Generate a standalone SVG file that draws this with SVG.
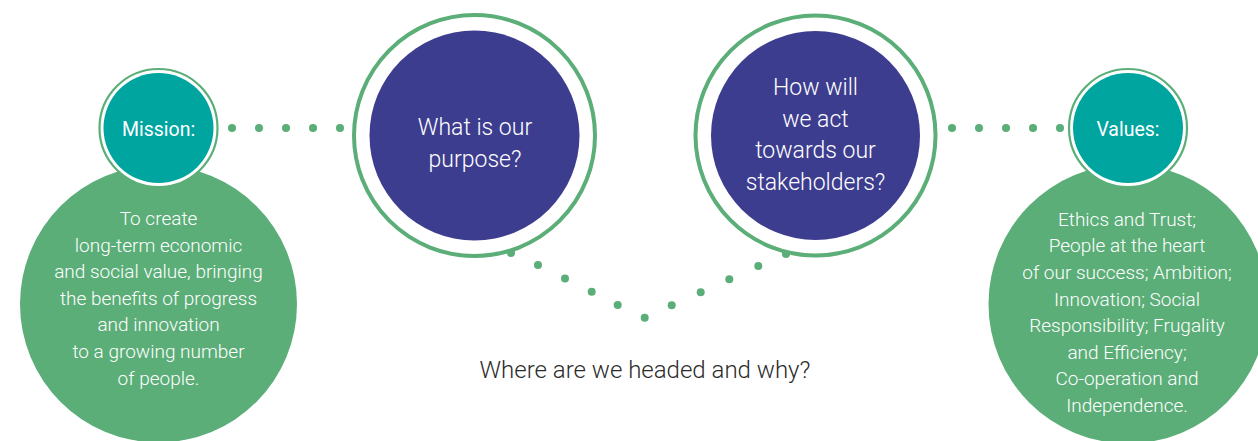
<svg xmlns="http://www.w3.org/2000/svg" width="1258" height="441" viewBox="0 0 1258 441">
<style>
.big{fill:#5bae78}
.ring{fill:#ffffff;stroke:#5bae78;stroke-width:4}
.sring{fill:#ffffff;stroke:#5bae78;stroke-width:2.2}
.teal{fill:#00a59f}
.purple{fill:#3d3d8f}
.dot{fill:#5bae78}
text{font-family:Roboto,"Liberation Sans",sans-serif;font-weight:300;fill:#ffffff;text-anchor:middle}
.body{font-size:19px}
.lbl{font-size:19.5px;font-weight:400}
.q{font-size:23px}
.foot{font-size:24px;fill:#2b2b2b}
</style>
<g id="connectors">
<circle class="dot" cx="232" cy="128" r="4"/>
<circle class="dot" cx="259" cy="128" r="4"/>
<circle class="dot" cx="286" cy="128" r="4"/>
<circle class="dot" cx="313" cy="128" r="4"/>
<circle class="dot" cx="340" cy="128" r="4"/>
<circle class="dot" cx="952" cy="128" r="4"/>
<circle class="dot" cx="979" cy="128" r="4"/>
<circle class="dot" cx="1006" cy="128" r="4"/>
<circle class="dot" cx="1033" cy="128" r="4"/>
<circle class="dot" cx="1060" cy="128" r="4"/>
<circle class="dot" cx="511" cy="253" r="4"/>
<circle class="dot" cx="538" cy="265" r="4"/>
<circle class="dot" cx="565" cy="278.5" r="4"/>
<circle class="dot" cx="591.7" cy="291.7" r="4"/>
<circle class="dot" cx="617.7" cy="305" r="4"/>
<circle class="dot" cx="644.7" cy="317.7" r="4"/>
<circle class="dot" cx="671.7" cy="305.3" r="4"/>
<circle class="dot" cx="700.7" cy="292.3" r="4"/>
<circle class="dot" cx="729.3" cy="279.3" r="4"/>
<circle class="dot" cx="758.3" cy="266" r="4"/>
<circle class="dot" cx="786" cy="254" r="4"/>
</g>
<g id="mission">
<circle class="big" cx="158.5" cy="304" r="138.5"/>
<circle class="sring" cx="158.5" cy="128" r="59"/>
<circle class="teal" cx="158.5" cy="128" r="55"/>
<text class="lbl" x="158.5" y="136">Mission:</text>
<text class="body" x="158.5" y="225">To create</text>
<text class="body" x="158.5" y="251.6">long-term economic</text>
<text class="body" x="158.5" y="278.2">and social value, bringing</text>
<text class="body" x="158.5" y="304.8">the benefits of progress</text>
<text class="body" x="158.5" y="331.4">and innovation</text>
<text class="body" x="158.5" y="358">to a growing number</text>
<text class="body" x="158.5" y="384.6">of people.</text>
</g>
<g id="purpose">
<circle class="ring" cx="474.5" cy="135.5" r="120.5"/>
<circle class="purple" cx="474.5" cy="135.5" r="105"/>
<text class="q" x="475" y="135">What is our</text>
<text class="q" x="475" y="167">purpose?</text>
</g>
<g id="stakeholders">
<circle class="ring" cx="815.5" cy="135.5" r="120"/>
<circle class="purple" cx="815.5" cy="135.5" r="104.5"/>
<text class="q" x="815.5" y="95">How will</text>
<text class="q" x="815.5" y="127">we act</text>
<text class="q" x="815.5" y="158">towards our</text>
<text class="q" x="815.5" y="190">stakeholders?</text>
</g>
<g id="values">
<circle class="big" cx="1128" cy="304" r="139.5"/>
<circle class="sring" cx="1128" cy="128" r="59"/>
<circle class="teal" cx="1128" cy="128" r="55"/>
<text class="lbl" x="1128" y="136">Values:</text>
<text class="body" x="1127" y="225.7">Ethics and Trust;</text>
<text class="body" x="1127" y="252.3">People at the heart</text>
<text class="body" x="1127" y="278.9">of our success; Ambition;</text>
<text class="body" x="1127" y="305.5">Innovation; Social</text>
<text class="body" x="1127" y="332.1">Responsibility; Frugality</text>
<text class="body" x="1127" y="358.7">and Efficiency;</text>
<text class="body" x="1127" y="385.3">Co-operation and</text>
<text class="body" x="1127" y="411.9">Independence.</text>
</g>
<g id="headline">
<text class="foot" x="645" y="378">Where are we headed and why?</text>
</g>
</svg>
